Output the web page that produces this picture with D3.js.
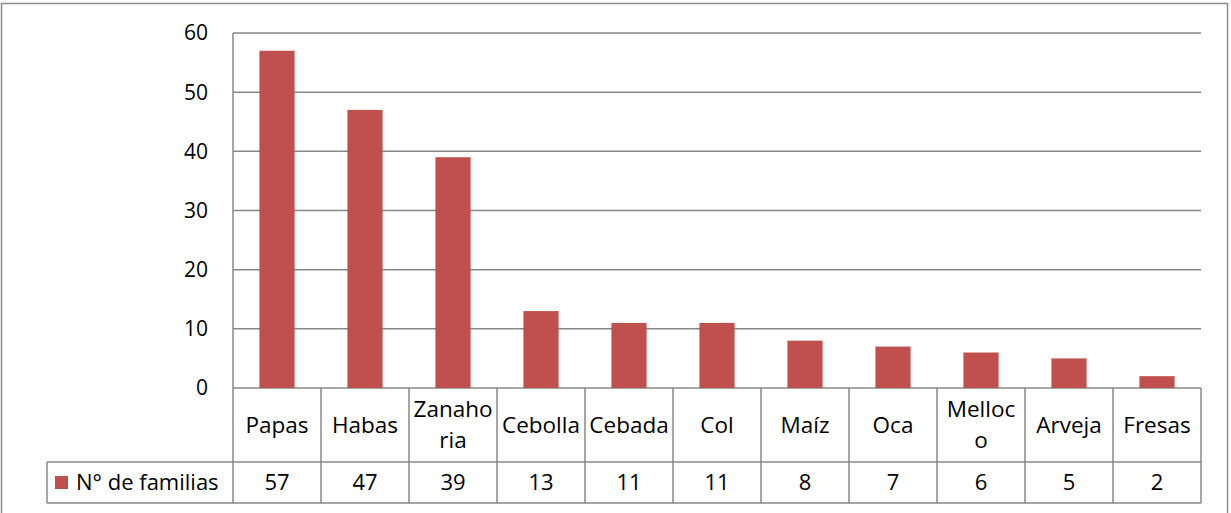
<!DOCTYPE html>
<html>
<head>
<meta charset="utf-8">
<script src="https://cdn.jsdelivr.net/npm/d3@7"></script>
<style>
  body { margin: 0; background: #fff; }
  svg text { font-family: "Open Sans", "Liberation Sans", sans-serif; fill: #000; }
</style>
</head>
<body>
<div id="chart"></div>
<script>
const categories = ['Papas', 'Habas', 'Zanahoria', 'Cebolla', 'Cebada', 'Col', 'Maíz', 'Oca', 'Melloco', 'Arveja', 'Fresas'];
const familias = [57, 47, 39, 13, 11, 11, 8, 7, 6, 5, 2];
const yTicks = [0, 10, 20, 30, 40, 50, 60];
const seriesName = 'N° de familias';
// how the table wraps the long names
const wrapped = { Zanahoria: ['Zanaho', 'ria'], Melloco: ['Melloc', 'o'] };

const width = 1231, height = 513;
const plotLeft = 233, plotRight = 1201, plotTop = 33, zero = 388;
const rowMid = 462, rowBottom = 503, legendLeft = 47;
const grid = '#878787';

const svg = d3.select('#chart').append('svg')
  .attr('width', width)
  .attr('height', height);

// chart border
svg.append('rect')
  .attr('x', 1.5).attr('y', 3.5)
  .attr('width', 1226).attr('height', 520)
  .attr('fill', 'none')
  .attr('stroke', '#8c8c8c')
  .attr('stroke-width', 1.5);

const x = d3.scaleBand()
  .domain(categories)
  .range([plotLeft, plotRight]);

const y = d3.scaleLinear()
  .domain([0, 60])
  .range([zero, plotTop]);

// gridlines
svg.append('g')
  .selectAll('line')
  .data(yTicks)
  .enter()
  .append('line')
  .attr('x1', plotLeft).attr('x2', plotRight)
  .attr('y1', (d) => y(d)).attr('y2', (d) => y(d))
  .attr('stroke', grid)
  .attr('stroke-width', 1.5);

// y labels
svg.append('g')
  .selectAll('text')
  .data(yTicks)
  .enter()
  .append('text')
  .attr('x', 208)
  .attr('y', (d) => y(d))
  .attr('dy', '0.35em')
  .attr('text-anchor', 'end')
  .style('font-size', '21px')
  .text((d) => d);

// bars
const barW = x.bandwidth() * 0.4;
svg.append('g')
  .selectAll('rect')
  .data(familias)
  .enter()
  .append('rect')
  .attr('x', (d, i) => x(categories[i]) + (x.bandwidth() - barW) / 2)
  .attr('y', (d) => y(d))
  .attr('width', barW)
  .attr('height', (d) => y(0) - y(d))
  .attr('fill', '#c0504d');

// data table lines
const table = svg.append('g')
  .attr('stroke', grid)
  .attr('stroke-width', 1.5);

table.append('line')
  .attr('x1', plotLeft).attr('x2', plotLeft)
  .attr('y1', plotTop).attr('y2', rowBottom);

table.selectAll('.col')
  .data(categories)
  .enter()
  .append('line')
  .attr('class', 'col')
  .attr('x1', (d) => x(d) + x.bandwidth()).attr('x2', (d) => x(d) + x.bandwidth())
  .attr('y1', zero).attr('y2', rowBottom);

table.append('line')
  .attr('x1', legendLeft).attr('x2', plotRight)
  .attr('y1', rowMid).attr('y2', rowMid);
table.append('line')
  .attr('x1', legendLeft).attr('x2', plotRight)
  .attr('y1', rowBottom).attr('y2', rowBottom);
table.append('line')
  .attr('x1', legendLeft).attr('x2', legendLeft)
  .attr('y1', rowMid).attr('y2', rowBottom);

// category names
const names = svg.append('g')
  .selectAll('text')
  .data(categories)
  .enter()
  .append('text')
  .attr('text-anchor', 'middle')
  .style('font-size', '22.5px')
  .attr('transform', (d) => 'translate(' + (x(d) + x.bandwidth() / 2) + ',' + ((zero + rowMid) / 2) + ')');

names.each(function (d) {
  const lines = wrapped[d] || [d];
  const t = d3.select(this);
  lines.forEach((l, i) => {
    t.append('tspan')
      .attr('x', 0)
      .attr('y', (i - (lines.length - 1) / 2) * 31)
      .attr('dy', '0.35em')
      .text(l);
  });
});

// values row
svg.append('g')
  .selectAll('text')
  .data(familias)
  .enter()
  .append('text')
  .attr('x', (d, i) => x(categories[i]) + x.bandwidth() / 2)
  .attr('y', (rowMid + rowBottom) / 2)
  .attr('dy', '0.35em')
  .attr('text-anchor', 'middle')
  .style('font-size', '22px')
  .text((d) => d);

// legend key
svg.append('rect')
  .attr('x', 55).attr('y', 476)
  .attr('width', 13).attr('height', 13)
  .attr('fill', '#c0504d');
svg.append('text')
  .attr('x', 76)
  .attr('y', (rowMid + rowBottom) / 2)
  .attr('dy', '0.35em')
  .style('font-size', '22px')
  .text(seriesName);
</script>
</body>
</html>
